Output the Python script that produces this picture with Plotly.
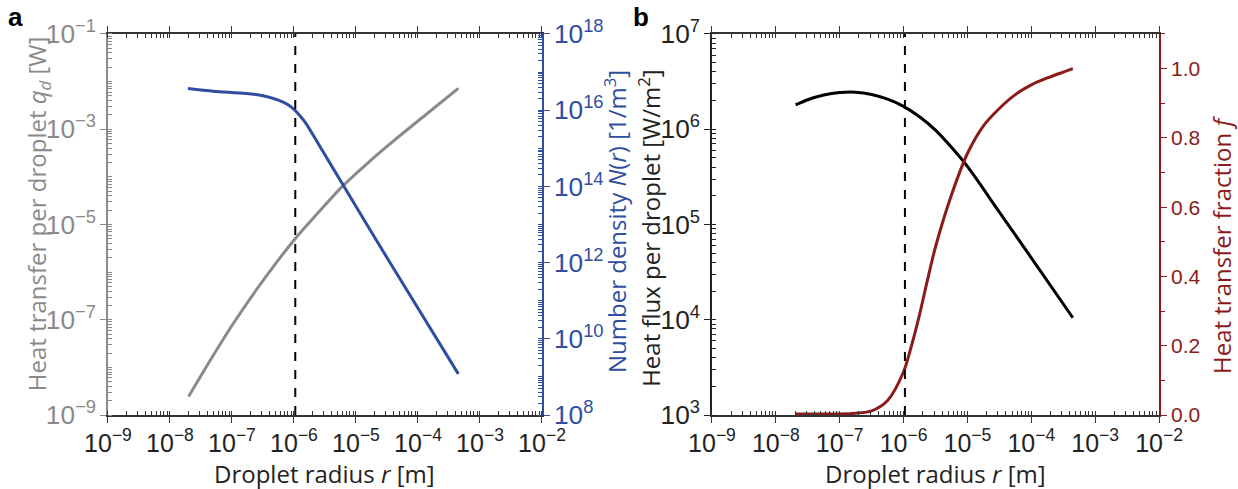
import plotly.graph_objects as go

# ---- Panel a data ----
r_q = [2.0e-8, 4.47e-8, 1.0e-7, 2.51e-7, 5.13e-7, 1.0e-6, 2.51e-6, 6.03e-6, 1.58e-5, 4.27e-5, 1.41e-4, 4.47e-4]
q_d = [2.45e-9, 1.41e-8, 7.59e-8, 4.37e-7, 1.55e-6, 4.68e-6, 1.82e-5, 6.31e-5, 2.0e-4, 6.03e-4, 2.14e-3, 7.24e-3]

r_N = [1.95e-8, 5.0e-8, 1.7e-7, 3.16e-7, 5.75e-7, 7.94e-7, 1.0e-6, 1.26e-6, 1.55e-6, 2.51e-6, 6.03e-6, 3.39e-5, 4.47e-4]
N_r = [3.72e16, 3.16e16, 2.75e16, 2.4e16, 1.82e16, 1.41e16, 1.05e16, 7.08e15, 4.57e15, 1.26e15, 1.17e14, 1.12e12, 1.2e9]

# ---- Panel b data ----
r_flux = [2.04e-8, 3.16e-8, 5.62e-8, 1.0e-7, 1.78e-7, 3.16e-7, 5.62e-7, 1.0e-6, 1.78e-6,
          3.16e-6, 5.62e-6, 1.0e-5, 3.16e-5, 1.0e-4, 4.47e-4]
flux = [1.80e6, 2.04e6, 2.29e6, 2.43e6, 2.45e6, 2.32e6, 2.07e6, 1.74e6, 1.35e6,
        9.77e5, 6.46e5, 4.07e5, 1.35e5, 4.47e4, 1.05e4]

r_f = [2.04e-8, 1.0e-7, 1.78e-7, 3.16e-7, 5.62e-7, 1.0e-6, 1.33e-6, 1.78e-6, 2.37e-6, 3.16e-6, 5.62e-6,
       1.0e-5, 1.78e-5, 3.16e-5, 5.62e-5, 1.0e-4, 1.78e-4, 3.16e-4, 4.47e-4]
frac = [0.003, 0.003, 0.005, 0.012, 0.042, 0.125, 0.20, 0.29, 0.39, 0.485, 0.635,
        0.755, 0.835, 0.885, 0.925, 0.953, 0.973, 0.99, 1.0]

r_crit = 1.05e-6

GRAY = "#8a8a8a"
BLUE = "#2f4ea1"
RED = "#8b1a1a"
TICKFONT = "Liberation Sans, Arial, sans-serif"
TITLEFONT = "Open Sans, sans-serif"

fig = go.Figure()
line_common = dict(width=3, shape="spline", smoothing=0.8)
fig.add_trace(go.Scatter(x=r_q, y=q_d, mode="lines", line=dict(color=GRAY, **line_common),
                         xaxis="x", yaxis="y", showlegend=False))
fig.add_trace(go.Scatter(x=r_N, y=N_r, mode="lines", line=dict(color=BLUE, **line_common),
                         xaxis="x", yaxis="y2", showlegend=False))
fig.add_trace(go.Scatter(x=r_flux, y=flux, mode="lines", line=dict(color="black", **line_common),
                         xaxis="x2", yaxis="y3", showlegend=False))
fig.add_trace(go.Scatter(x=r_f, y=frac, mode="lines", line=dict(color=RED, **line_common),
                         xaxis="x2", yaxis="y4", showlegend=False))

ydom = [0.1513, 0.9305]


def xax(domain, anchor):
    return dict(domain=domain, anchor=anchor, type="log", range=[-9, -2], dtick=1,
                exponentformat="power", showgrid=False, zeroline=False, automargin=False,
                showline=True, linecolor="#333333", linewidth=1.5, mirror="ticks",
                ticks="outside", ticklen=6, tickwidth=1.2, tickcolor="#333333",
                minor=dict(dtick="D1", ticks="inside", ticklen=4, tickcolor="#333333", showgrid=False),
                tickfont=dict(family=TICKFONT, size=20, color="#222222"))


def logyax(rng, dtick, tick0, color, side="left", overlaying=None, anchor="x"):
    d = dict(domain=ydom, anchor=anchor, type="log", range=rng, dtick=dtick, tick0=tick0,
             exponentformat="power", showgrid=False, zeroline=False, side=side, automargin=False,
             showline=True, linecolor=color, linewidth=1.5,
             ticks="outside", ticklen=6, tickwidth=1.2, tickcolor=color,
             minor=dict(dtick="D1", ticks="inside", ticklen=4, tickcolor=color, showgrid=False),
             tickfont=dict(family=TICKFONT, size=21, color=color))
    if overlaying:
        d["overlaying"] = overlaying
    return d


layout = dict(
    width=1238, height=489, autosize=False,
    margin=dict(l=0, r=0, t=0, b=0, pad=0, autoexpand=False),
    paper_bgcolor="white", plot_bgcolor="white",
    xaxis=xax([0.0872, 0.4378], "y"),
    xaxis2=xax([0.5751, 0.9362], "y3"),
    yaxis=logyax([-9, -1], 2, -1, GRAY, anchor="x"),
    yaxis2=logyax([8, 18], 2, 8, BLUE, side="right", overlaying="y", anchor="x"),
    yaxis3=logyax([3, 7], 1, 3, "#222222", anchor="x2"),
    yaxis4=dict(domain=ydom, anchor="x2", overlaying="y3", side="right", range=[0, 1.1],
                dtick=0.2, tick0=0, tickformat=".1f", showgrid=False, zeroline=False, automargin=False,
                showline=True, linecolor=RED, linewidth=1.5, ticks="outside", ticklen=6,
                tickwidth=1.2, tickcolor=RED,
                minor=dict(dtick=0.1, ticks="outside", ticklen=4, tickcolor=RED, showgrid=False),
                tickfont=dict(family=TICKFONT, size=21, color=RED)),
)
fig.update_layout(**layout)

# dashed critical radius lines
fig.add_shape(type="line", xref="x", yref="y domain", x0=r_crit, x1=r_crit, y0=0, y1=1,
              line=dict(color="black", width=2, dash="dash"))
fig.add_shape(type="line", xref="x2", yref="y3 domain", x0=r_crit, x1=r_crit, y0=0, y1=1,
              line=dict(color="black", width=2, dash="dash"))

ann = [
    dict(text="<b>a</b>", x=15 / 1238, y=1 - 17 / 489, xanchor="center", yanchor="middle",
         font=dict(family=TICKFONT, size=26, color="black")),
    dict(text="<b>b</b>", x=641 / 1238, y=1 - 17 / 489, xanchor="center", yanchor="middle",
         font=dict(family=TICKFONT, size=26, color="black")),
    dict(text="Droplet radius <i>r</i> [m]", x=0.2625, y=1 - 473 / 489, xanchor="center", yanchor="middle",
         font=dict(family=TITLEFONT, size=24, color="#222222")),
    dict(text="Droplet radius <i>r</i> [m]", x=0.7557, y=1 - 473 / 489, xanchor="center", yanchor="middle",
         font=dict(family=TITLEFONT, size=24, color="#222222")),
    dict(text="Heat transfer per droplet <i>q<sub>d</sub></i> [W]", x=38 / 1238, y=0.562, textangle=-90,
         xanchor="center", yanchor="middle", font=dict(family=TITLEFONT, size=24, color=GRAY)),
    dict(text="Number density <i>N</i>(<i>r</i>) [1/m<sup>3</sup>]", x=615 / 1238, y=0.546, textangle=-90,
         xanchor="center", yanchor="middle", font=dict(family=TITLEFONT, size=24, color=BLUE)),
    dict(text="Heat flux per droplet [W/m<sup>2</sup>]", x=650 / 1238, y=0.534, textangle=-90,
         xanchor="center", yanchor="middle", font=dict(family=TITLEFONT, size=24, color="#222222")),
    dict(text="Heat transfer fraction <i>f</i>", x=1222 / 1238, y=0.499, textangle=-90,
         xanchor="center", yanchor="middle", font=dict(family=TITLEFONT, size=24, color=RED)),
]
for a in ann:
    a.update(xref="paper", yref="paper", showarrow=False)
    fig.add_annotation(**a)

fig.write_html("out.html")
